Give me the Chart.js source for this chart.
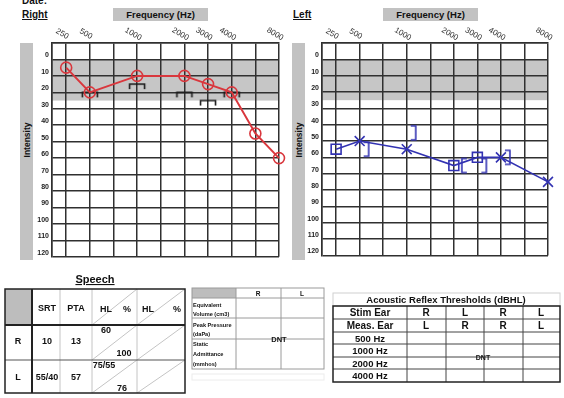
<!DOCTYPE html>
<html>
<head>
<meta charset="utf-8">
<script src="https://cdn.jsdelivr.net/npm/chart.js@4.4.1/dist/chart.umd.min.js"></script>
<style>
  body { margin: 0; background: #fff; font-family: "Liberation Sans", Arial, sans-serif; color: #111; }
  #page { position: relative; width: 564px; height: 398px; overflow: hidden; }
  .abs { position: absolute; }
  .hdr { font-weight: bold; font-size: 10px; line-height: 10px; text-decoration: underline; white-space: nowrap; }
  .freqbox { background: #c2c2c2; font-weight: bold; font-size: 9.5px; text-align: center; line-height: 13px; height: 13px; }
  .ibar { background: #c2c2c2; width: 13px; top: 43px; height: 217px; }
  .ilabel { font-weight: bold; font-size: 8.5px; white-space: nowrap; transform: translate(-50%, -50%) rotate(-90deg); }
</style>
</head>
<body>
<div id="page">
  <div class="abs hdr" style="left:22px;top:-4px;text-decoration:none">Date:</div>
  <div class="abs hdr" style="left:22px;top:10px">Right</div>
  <div class="abs hdr" style="left:293px;top:10px">Left</div>
  <div class="abs freqbox" style="left:113px;top:8px;width:95px">Frequency (Hz)</div>
  <div class="abs freqbox" style="left:383px;top:8px;width:95px">Frequency (Hz)</div>

  <div class="abs ibar" style="left:20px"></div>
  <div class="abs ilabel" style="left:27px;top:140px">Intensity</div>
  <div class="abs ibar" style="left:292px"></div>
  <div class="abs ilabel" style="left:299px;top:140px">Intensity</div>

  <canvas id="rightChart" class="abs" style="left:0;top:0" width="290" height="264"></canvas>
  <canvas id="leftChart" class="abs" style="left:270px;top:0" width="289" height="264"></canvas>

  <svg class="abs" style="left:0;top:0" width="564" height="398" font-family="Liberation Sans, Arial, sans-serif" font-weight="bold" fill="#111">
    <!-- Speech -->
    <text x="95" y="283" font-size="11" text-anchor="middle" text-decoration="underline">Speech</text>
    <rect x="5" y="289" width="27" height="36" fill="#bdbdbd"/>
    <g stroke="#c4c4c4" stroke-width="1">
      <line x1="60" y1="289" x2="60" y2="393"/>
      <line x1="92" y1="289" x2="92" y2="393"/>
      <line x1="137" y1="289" x2="137" y2="393"/>
      <line x1="92" y1="325" x2="137" y2="289"/>
      <line x1="137" y1="325" x2="185" y2="289"/>
      <line x1="92" y1="360" x2="137" y2="325"/>
      <line x1="137" y1="360" x2="185" y2="325"/>
      <line x1="92" y1="393" x2="137" y2="360"/>
      <line x1="137" y1="393" x2="185" y2="360"/>
    </g>
    <line x1="5" y1="360" x2="185" y2="360" stroke="#555" stroke-width="1"/>
    <line x1="5" y1="325" x2="185" y2="325" stroke="#222" stroke-width="2"/>
    <line x1="32" y1="289" x2="32" y2="393" stroke="#222" stroke-width="2"/>
    <rect x="5" y="289" width="180" height="104" fill="none" stroke="#222" stroke-width="1.5"/>
    <g font-size="9" dominant-baseline="central" text-anchor="middle">
      <text x="47" y="308">SRT</text>
      <text x="76" y="308">PTA</text>
      <text x="106" y="309">HL</text>
      <text x="127" y="309">%</text>
      <text x="148" y="309">HL</text>
      <text x="177" y="309">%</text>
      <text x="18" y="341">R</text>
      <text x="47" y="341">10</text>
      <text x="76" y="341">13</text>
      <text x="106" y="330">60</text>
      <text x="124" y="353">100</text>
      <text x="18" y="377">L</text>
      <text x="47" y="377">55/40</text>
      <text x="76" y="377">57</text>
      <text x="104" y="365">75/55</text>
      <text x="122" y="388">76</text>
    </g>

    <!-- Immittance -->
    <rect x="192" y="288" width="44" height="10" fill="#bdbdbd"/>
    <g stroke="#9a9a9a" stroke-width="1" fill="none">
      <line x1="236" y1="288" x2="236" y2="369"/>
      <line x1="281" y1="288" x2="281" y2="369"/>
      <line x1="192" y1="298" x2="324" y2="298"/>
      <line x1="192" y1="318" x2="324" y2="318"/>
      <line x1="192" y1="339" x2="324" y2="339"/>
      <rect x="192" y="288" width="132" height="81"/>
      <rect x="192" y="374" width="132" height="6" stroke="#ececec"/>
    </g>
    <g font-size="6.5" text-anchor="middle" dominant-baseline="central">
      <text x="258" y="293">R</text>
      <text x="302" y="293">L</text>
    </g>
    <g font-size="5.6">
      <text x="193" y="306.5">Equivalent</text>
      <text x="193" y="315.5">Volume (cm3)</text>
      <text x="193" y="326.5">Peak Pressure</text>
      <text x="193" y="335.5">(daPa)</text>
      <text x="193" y="346">Static</text>
      <text x="193" y="355.5">Admittance</text>
      <text x="193" y="365.5">(mmhos)</text>
    </g>
    <text x="279" y="339" font-size="7.5" text-anchor="middle" dominant-baseline="central">DNT</text>

    <!-- Acoustic reflex -->
    <rect x="333" y="293" width="227" height="13" fill="none" stroke="#d0d0d0" stroke-width="1"/>
    <text x="446" y="299.5" font-size="9.5" text-anchor="middle" dominant-baseline="central">Acoustic Reflex Thresholds (dBHL)</text>
    <g stroke="#444" stroke-width="1">
      <line x1="333" y1="319" x2="560" y2="319"/>
      <line x1="333" y1="332" x2="560" y2="332"/>
      <line x1="333" y1="344" x2="560" y2="344"/>
      <line x1="333" y1="357" x2="560" y2="357"/>
      <line x1="333" y1="369" x2="560" y2="369"/>
      <line x1="407" y1="306" x2="407" y2="382"/>
      <line x1="446" y1="306" x2="446" y2="382"/>
      <line x1="484" y1="306" x2="484" y2="382"/>
      <line x1="523" y1="306" x2="523" y2="382"/>
    </g>
    <rect x="333" y="306" width="227" height="76" fill="none" stroke="#222" stroke-width="1.5"/>
    <g font-size="10" text-anchor="middle" dominant-baseline="central">
      <text x="370" y="312.5">Stim Ear</text>
      <text x="426" y="312.5">R</text>
      <text x="465" y="312.5">L</text>
      <text x="503" y="312.5">R</text>
      <text x="541" y="312.5">L</text>
      <text x="370" y="325.5">Meas. Ear</text>
      <text x="426" y="325.5">L</text>
      <text x="465" y="325.5">R</text>
      <text x="503" y="325.5">R</text>
      <text x="541" y="325.5">L</text>
    </g>
    <g font-size="9.5" text-anchor="middle" dominant-baseline="central">
      <text x="370" y="338">500 Hz</text>
      <text x="370" y="350.5">1000 Hz</text>
      <text x="370" y="363">2000 Hz</text>
      <text x="370" y="375.5">4000 Hz</text>
    </g>
    <text x="483" y="357" font-size="7" text-anchor="middle" dominant-baseline="central">DNT</text>
  </svg>
</div>

<script>
// audiogram frequency columns (index = x position on the grid)
const freqs = [250, 500, 750, 1000, 1500, 2000, 3000, 4000, 6000, 8000];
const freqLabels = ['250', '500', '', '1000', '', '2000', '3000', '4000', '', '8000'];
const dbTicks = [-10, 0, 10, 20, 30, 40, 50, 60, 70, 80, 90, 100, 110, 120];
const normalBand = [0, 25];

// right ear
const rightAirFreqs = [250, 500, 1000, 2000, 3000, 4000, 6000, 8000];
const rightAirDb = [5, 20, 10, 10, 15, 20, 45, 60];
const rightBoneFreqs = [500, 1000, 2000, 3000, 4000];
const rightBoneDb = [20, 15, 20, 25, 20];

// left ear
const leftAirFreqs = [250, 500, 1000, 2000, 3000, 4000, 8000];
const leftAirDb = [55, 50, 55, 65, 60, 60, 75];
const leftAirMasked = [true, false, false, true, true, false, false];
const leftBoneFreqs = [500, 1000, 2000, 3000, 4000];
const leftBoneDb = [55, 45, 65, 65, 60];
const leftBoneOpenRight = [false, false, true, false, false];

const RED = '#d9373d';
const BLUE = '#3232b2';
const GRID = '#303030';

Chart.defaults.font.family = '"Liberation Sans", Arial, sans-serif';

function toPoints(fs, dbs) {
    return fs.map((f, i) => ({ x: freqs.indexOf(f), y: dbs[i] }));
}

// bracket markers for bone conduction
function bracketImage(kind, color) {
    const c = document.createElement('canvas');
    c.width = 32; c.height = 32;
    const g = c.getContext('2d');
    g.strokeStyle = color;
    g.lineWidth = 1.6;
    g.beginPath();
    if (kind === 'cap') {
        g.moveTo(8.5, 21); g.lineTo(8.5, 16); g.lineTo(23.5, 16); g.lineTo(23.5, 21);
    } else if (kind === 'close') {
        g.moveTo(20, 9); g.lineTo(25, 9); g.lineTo(25, 23); g.lineTo(20, 23);
    } else {
        g.moveTo(29, 9); g.lineTo(24, 9); g.lineTo(24, 23); g.lineTo(29, 23);
    }
    g.stroke();
    return c;
}

const bandPlugin = {
    id: 'normalBand',
    beforeDraw(chart) {
        const { ctx, chartArea: a, scales: { y } } = chart;
        const y0 = y.getPixelForValue(normalBand[0]);
        const y1 = y.getPixelForValue(normalBand[1]);
        ctx.save();
        ctx.fillStyle = '#c6c6c6';
        ctx.fillRect(a.left, y0, a.right - a.left, y1 - y0);
        ctx.restore();
    }
};

const freqLabelPlugin = {
    id: 'freqLabels',
    afterDraw(chart) {
        const { ctx, chartArea, scales: { x } } = chart;
        ctx.save();
        ctx.font = '8px "Liberation Sans", Arial, sans-serif';
        ctx.fillStyle = '#333';
        ctx.textAlign = 'center';
        ctx.textBaseline = 'middle';
        freqLabels.forEach((lbl, i) => {
            if (!lbl) return;
            ctx.save();
            ctx.translate(x.getPixelForValue(i) - 4, chartArea.top - 9);
            ctx.rotate(Math.PI / 6);
            ctx.fillText(lbl, 0, 0);
            ctx.restore();
        });
        ctx.restore();
    }
};

function buildAudiogram(canvasId, datasets) {
    return new Chart(document.getElementById(canvasId), {
        type: 'line',
        data: { datasets },
        options: {
            responsive: false,
            animation: false,
            layout: { padding: { top: 43, right: 11, bottom: 4, left: 0 } },
            plugins: { legend: { display: false }, tooltip: { enabled: false } },
            scales: {
                x: {
                    type: 'linear',
                    position: 'top',
                    min: -0.6,
                    max: freqs.length - 1,
                    afterBuildTicks: s => { s.ticks = [-0.6].concat(freqs.map((f, i) => i)).map(v => ({ value: v })); },
                    afterFit: s => { s.height = 0; },
                    ticks: { display: false },
                    grid: { color: GRID, lineWidth: 1.5, drawTicks: false },
                    border: { color: GRID, width: 1.5 }
                },
                y: {
                    reverse: true,
                    min: dbTicks[0],
                    max: dbTicks[dbTicks.length - 1],
                    afterBuildTicks: s => { s.ticks = dbTicks.map(v => ({ value: v })); },
                    afterFit: s => { s.width = 52; },
                    ticks: {
                        padding: 3,
                        labelOffset: -4,
                        color: '#222',
                        font: { size: 7, weight: 'bold' },
                        callback: v => (v === dbTicks[0] ? '' : v)
                    },
                    grid: { color: GRID, lineWidth: 1.5, drawTicks: false },
                    border: { color: GRID, width: 1.5 }
                }
            }
        },
        plugins: [bandPlugin, freqLabelPlugin]
    });
}

buildAudiogram('rightChart', [
    {
        data: toPoints(rightAirFreqs, rightAirDb),
        borderColor: RED,
        borderWidth: 2,
        pointStyle: 'circle',
        pointRadius: 5.5,
        pointBorderWidth: 1.6,
        pointBorderColor: RED,
        pointBackgroundColor: 'rgba(0,0,0,0)',
        clip: false
    },
    {
        data: toPoints(rightBoneFreqs, rightBoneDb),
        showLine: false,
        pointStyle: bracketImage('cap', '#1a1a1a'),
        clip: false
    }
]);

buildAudiogram('leftChart', [
    {
        data: toPoints(leftAirFreqs, leftAirDb),
        borderColor: BLUE,
        borderWidth: 1.6,
        pointStyle: leftAirMasked.map(m => (m ? 'rect' : 'crossRot')),
        pointRadius: 7,
        pointBorderWidth: 1.6,
        pointBorderColor: BLUE,
        pointBackgroundColor: 'rgba(0,0,0,0)',
        clip: false
    },
    {
        data: toPoints(leftBoneFreqs, leftBoneDb),
        showLine: false,
        pointStyle: leftBoneOpenRight.map(o => bracketImage(o ? 'open' : 'close', BLUE)),
        clip: false
    }
]);
</script>
</body>
</html>
